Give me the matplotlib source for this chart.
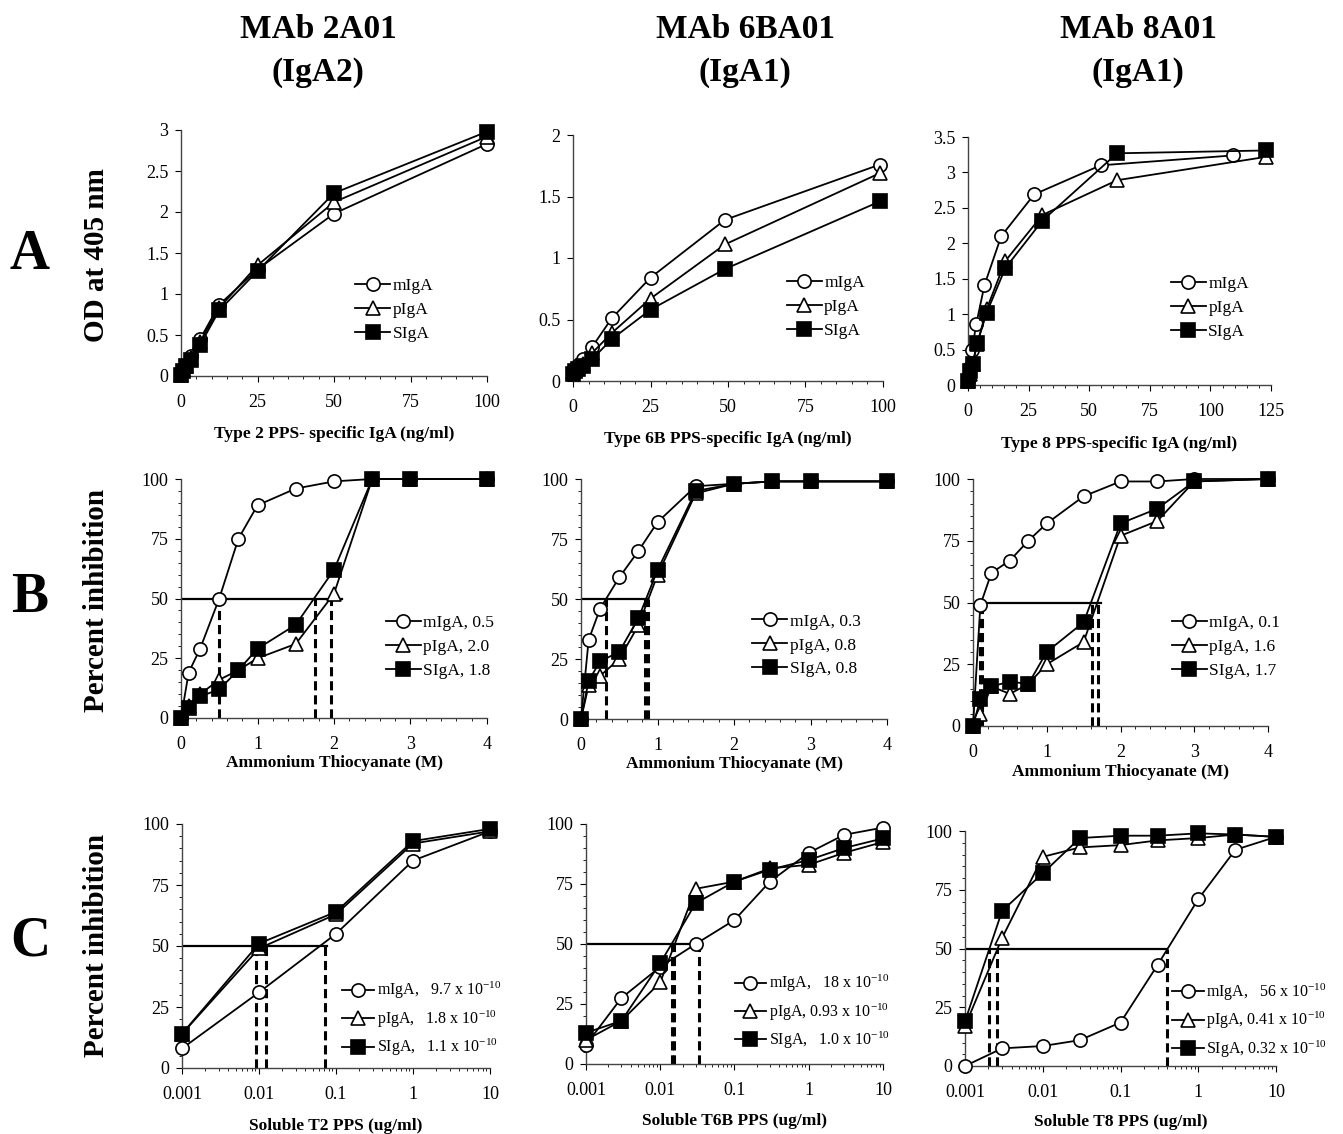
import matplotlib
matplotlib.use('Agg')
import matplotlib.pyplot as plt
from matplotlib.ticker import MultipleLocator, FixedLocator, FixedFormatter, LogLocator, NullFormatter

plt.rcParams['font.family'] = ['Liberation Serif', 'DejaVu Serif']
plt.rcParams['mathtext.fontset'] = 'custom'
plt.rcParams['mathtext.rm'] = 'Liberation Serif'
plt.rcParams['mathtext.it'] = 'Liberation Serif:italic'
plt.rcParams['mathtext.bf'] = 'Liberation Serif:bold'

# ---- column titles / row labels ----
mabs = ['MAb 2A01', 'MAb 6BA01', 'MAb 8A01']
isotypes = ['(IgA2)', '(IgA1)', '(IgA1)']
row_letters = ['A', 'B', 'C']
row_ylabels = ['OD at 405 nm', 'Percent inhibition', 'Percent inhibition']

# ---- row A: binding ELISA (ng/ml vs OD405) ----
a1_x = [0, 0.78, 1.56, 3.13, 6.25, 12.5, 25, 50, 100]
a1_m = [0.02, 0.08, 0.14, 0.24, 0.45, 0.87, 1.30, 1.98, 2.83]
a1_p = [0.01, 0.07, 0.12, 0.22, 0.42, 0.83, 1.35, 2.12, 2.92]
a1_s = [0.01, 0.06, 0.12, 0.19, 0.38, 0.80, 1.28, 2.23, 2.98]

a2_x = [0, 0.78, 1.56, 3.13, 6.25, 12.5, 25, 49, 99]
a2_m = [0.08, 0.10, 0.13, 0.18, 0.28, 0.51, 0.84, 1.31, 1.76]
a2_p = [0.07, 0.09, 0.11, 0.14, 0.23, 0.39, 0.67, 1.11, 1.69]
a2_s = [0.06, 0.08, 0.10, 0.12, 0.18, 0.34, 0.58, 0.91, 1.46]

a3_xm = [0, 0.85, 1.7, 3.4, 6.8, 13.7, 27.3, 54.7, 109.4]
a3_xps = [0, 0.96, 1.9, 3.8, 7.7, 15.4, 30.7, 61.5, 123]
a3_m = [0.05, 0.25, 0.50, 0.86, 1.41, 2.10, 2.69, 3.10, 3.24]
a3_p = [0.05, 0.15, 0.30, 0.58, 1.07, 1.75, 2.40, 2.89, 3.22]
a3_s = [0.05, 0.20, 0.30, 0.59, 1.02, 1.65, 2.32, 3.27, 3.31]

# ---- row B: thiocyanate elution (M vs % inhibition) ----
b_x = [0, 0.1, 0.25, 0.5, 0.75, 1, 1.5, 2, 2.5, 3, 4]
b1_m = [0, 19, 29, 50, 75, 89, 96, 99, 100, 100, 100]
b1_p = [0, 5, 10, 16, 20, 25, 31, 52, 100, 100, 100]
b1_s = [0, 4, 9, 12, 20, 29, 39, 62, 100, 100, 100]
b2_m = [0, 33, 46, 59, 70, 82, 97, 98, 99, 99, 99]
b2_p = [0, 14, 18, 25, 39, 60, 94, 98, 99, 99, 99]
b2_s = [0, 16, 24, 28, 42, 62, 95, 98, 99, 99, 99]
b3_m = [0, 49, 62, 67, 75, 82, 93, 99, 99, 100, 100]
b3_p = [0, 5, 16, 13, 17, 25, 34, 77, 83, 99, 100]
b3_s = [0, 11, 16, 18, 17, 30, 42, 82, 88, 99, 100]
b1_half = [0.5, 1.75, 1.96]
b2_half = [0.33, 0.84, 0.87]
b3_half = [0.1, 0.12, 1.62, 1.70]
b_hline_end = [2.1, 0.88, 1.73]
b_legend = [['mIgA, 0.5', 'pIgA, 2.0', 'SIgA, 1.8'],
            ['mIgA, 0.3', 'pIgA, 0.8', 'SIgA, 0.8'],
            ['mIgA, 0.1', 'pIgA, 1.6', 'SIgA, 1.7']]

# ---- row C: soluble PPS inhibition (ug/ml vs % inhibition) ----
c1_x = [0.001, 0.01, 0.1, 1, 10]
c1_m = [8, 31, 55, 85, 97]
c1_p = [14, 49, 63, 92, 97]
c1_s = [14, 51, 64, 93, 98]
c_x = [0.001, 0.003, 0.01, 0.03, 0.1, 0.3, 1, 3, 10]
c2_m = [8, 27.5, 40.5, 50, 60, 76, 88, 95.5, 98.5]
c2_p = [10, 18, 34, 73, 76, 81.5, 83, 88, 92.5]
c2_s = [13, 18, 42, 67, 76, 81, 85, 90, 94]
c3_m = [0, 7.5, 8.5, 11, 18.5, 43, 71, 92, 97.5]
c3_p = [17, 54.5, 89, 93, 94, 96, 97, 98.5, 97.5]
c3_s = [19, 66, 82, 97, 98, 98, 99, 98.5, 97.5]
c1_half = [0.0092, 0.0123, 0.071]
c2_half = [0.0144, 0.0153, 0.0335]
c3_half = [0.00204, 0.00261, 0.396]
c_hline_end = [0.076, 0.031, 0.4]
SUP = r'$^{\mathregular{-10}}$'
c_legend = [['mIgA,   9.7 x 10' + SUP, 'pIgA,   1.8 x 10' + SUP, 'SIgA,   1.1 x 10' + SUP],
            ['mIgA,   18 x 10' + SUP, 'pIgA, 0.93 x 10' + SUP, 'SIgA,   1.0 x 10' + SUP],
            ['mIgA,   56 x 10' + SUP, 'pIgA, 0.41 x 10' + SUP, 'SIgA, 0.32 x 10' + SUP]]

a_legend = ['mIgA', 'pIgA', 'SIgA']
a_xlabels = ['Type 2 PPS- specific IgA (ng/ml)', 'Type 6B PPS-specific IgA (ng/ml)',
             'Type 8 PPS-specific IgA (ng/ml)']
b_xlabel = 'Ammonium Thiocyanate (M)'
c_xlabels = ['Soluble T2 PPS (ug/ml)', 'Soluble T6B PPS (ug/ml)', 'Soluble T8 PPS (ug/ml)']

W, H = 1343, 1134
fig = plt.figure(figsize=(W / 100, H / 100), dpi=100)

def box(l, r, t, b):
    return [l / W, (H - b) / H, (r - l) / W, (b - t) / H]

STYLES = [dict(marker='o', markerfacecolor='white'),
          dict(marker='^', markerfacecolor='white'),
          dict(marker='s', markerfacecolor='black')]

TICK_FS = 13
LAB_FS = 12.5

def panel(rect, xs, ys, labels, leg_at, xlabel, xlab_y, leg_fs=12.5):
    ax = fig.add_axes(rect)
    for x, y, lab, st in zip(xs, ys, labels, STYLES):
        ax.plot(x, y, color='black', lw=1.3, ms=9.5, markeredgecolor='black',
                markeredgewidth=1.2, label=lab, clip_on=False, zorder=4, **st)
    for s in ['top', 'right']:
        ax.spines[s].set_visible(False)
    for s in ['left', 'bottom']:
        ax.spines[s].set_linewidth(1.0)
        ax.spines[s].set_color('#444444')
    ax.tick_params(labelsize=TICK_FS, length=4, width=0.8, colors='black')
    ax.tick_params(axis='x', which='both', direction='out', pad=9)
    ax.tick_params(axis='y', which='both', direction='out', pad=5)
    ax.tick_params(which='minor', length=2.5, width=0.6)
    ax.set_xlabel(xlabel, fontsize=LAB_FS, fontweight='bold')
    ax.xaxis.set_label_coords(0.5, xlab_y)
    ax.legend(loc='upper left', bbox_to_anchor=leg_at, frameon=False,
              fontsize=leg_fs, handlelength=2.0, handletextpad=0.15,
              labelspacing=0.45, borderpad=0, borderaxespad=0)
    return ax

def fmt(v):
    return '%g' % v

# ---------- row A ----------
a_rects = [box(181, 487, 130, 376), box(573, 883, 135, 381), box(968, 1271, 137, 385)]
a_data = [([a1_x] * 3, [a1_m, a1_p, a1_s], 100, 3, 0.5),
          ([a2_x] * 3, [a2_m, a2_p, a2_s], 100, 2, 0.5),
          ([a3_xm, a3_xps, a3_xps], [a3_m, a3_p, a3_s], 125, 3.5, 0.5)]
a_leg_at = [(0.57, 0.40), (0.69, 0.43), (0.67, 0.44)]
for i in range(3):
    xs, ys, xmax, ymax, ystep = a_data[i]
    ax = panel(a_rects[i], xs, ys, a_legend, a_leg_at[i], a_xlabels[i], -0.205)
    ax.set_xlim(0, xmax)
    ax.set_ylim(0, ymax)
    ax.xaxis.set_major_locator(MultipleLocator(25))
    ax.xaxis.set_minor_locator(MultipleLocator(5))
    ax.yaxis.set_major_locator(MultipleLocator(ystep))
    ax.xaxis.set_major_formatter(plt.FuncFormatter(lambda v, p: fmt(v)))
    ax.yaxis.set_major_formatter(plt.FuncFormatter(lambda v, p: fmt(v)))

# ---------- row B ----------
b_rects = [box(181, 487, 479, 718), box(581, 887, 479, 719), box(973, 1268, 479, 726)]
b_ys = [[b1_m, b1_p, b1_s], [b2_m, b2_p, b2_s], [b3_m, b3_p, b3_s]]
b_halves = [b1_half, b2_half, b3_half]
b_leg_at = [(0.67, 0.43), (0.56, 0.44), (0.675, 0.45)]
for i in range(3):
    ax = panel(b_rects[i], [b_x] * 3, b_ys[i], b_legend[i], b_leg_at[i], b_xlabel, -0.155)
    ax.set_xlim(0, 4)
    ax.set_ylim(0, 100)
    ax.plot([0, b_hline_end[i]], [50, 50], color='black', lw=1.6, zorder=2)
    for xv in b_halves[i]:
        ax.plot([xv, xv], [0, 50], color='black', lw=2.2, ls=(0, (3, 1.6)), zorder=2)
    ax.xaxis.set_major_locator(MultipleLocator(1))
    ax.xaxis.set_minor_locator(MultipleLocator(0.2))
    ax.yaxis.set_major_locator(MultipleLocator(25))
    ax.yaxis.set_minor_locator(MultipleLocator(5))

# ---------- row C ----------
c_rects = [box(182, 490, 824, 1068), box(586, 883, 824, 1064), box(965, 1276, 831, 1066)]
c_xs = [[c1_x] * 3, [c_x] * 3, [c_x] * 3]
c_ys = [[c1_m, c1_p, c1_s], [c2_m, c2_p, c2_s], [c3_m, c3_p, c3_s]]
c_halves = [c1_half, c2_half, c3_half]
c_leg_at = [(0.52, 0.36), (0.50, 0.38), (0.665, 0.36)]
decades = [0.001, 0.01, 0.1, 1, 10]
for i in range(3):
    ax = panel(c_rects[i], c_xs[i], c_ys[i], c_legend[i], c_leg_at[i], c_xlabels[i], -0.205,
               leg_fs=11.5)
    ax.set_xscale('log')
    ax.set_xlim(0.001, 10)
    ax.set_ylim(0, 100)
    ax.plot([0.001, c_hline_end[i]], [50, 50], color='black', lw=1.6, zorder=2)
    for xv in c_halves[i]:
        ax.plot([xv, xv], [0, 50], color='black', lw=2.2, ls=(0, (3, 1.6)), zorder=2)
    ax.xaxis.set_major_locator(FixedLocator(decades))
    ax.xaxis.set_major_formatter(FixedFormatter([fmt(d) for d in decades]))
    ax.xaxis.set_minor_locator(LogLocator(base=10, subs=range(2, 10)))
    ax.xaxis.set_minor_formatter(NullFormatter())
    ax.yaxis.set_major_locator(MultipleLocator(25))
    ax.yaxis.set_minor_locator(MultipleLocator(5))

# ---------- titles and row labels ----------
title_x = [318, 745, 1138]
for i in range(3):
    fig.text(title_x[i] / W, 1 - 30 / H, mabs[i], ha='center', va='center',
             fontsize=24, fontweight='bold')
    fig.text(title_x[i] / W, 1 - 72 / H, isotypes[i], ha='center', va='center',
             fontsize=24, fontweight='bold')

letter_y = [255, 598, 942]
ylabel_y = [255, 600, 945]
for i in range(3):
    fig.text(30 / W, 1 - letter_y[i] / H, row_letters[i], ha='center', va='center',
             fontsize=40, fontweight='bold')
    fig.text(97 / W, 1 - ylabel_y[i] / H, row_ylabels[i], ha='center', va='center',
             rotation=90, fontsize=21, fontweight='bold')

fig.savefig('out.png', dpi=100)
